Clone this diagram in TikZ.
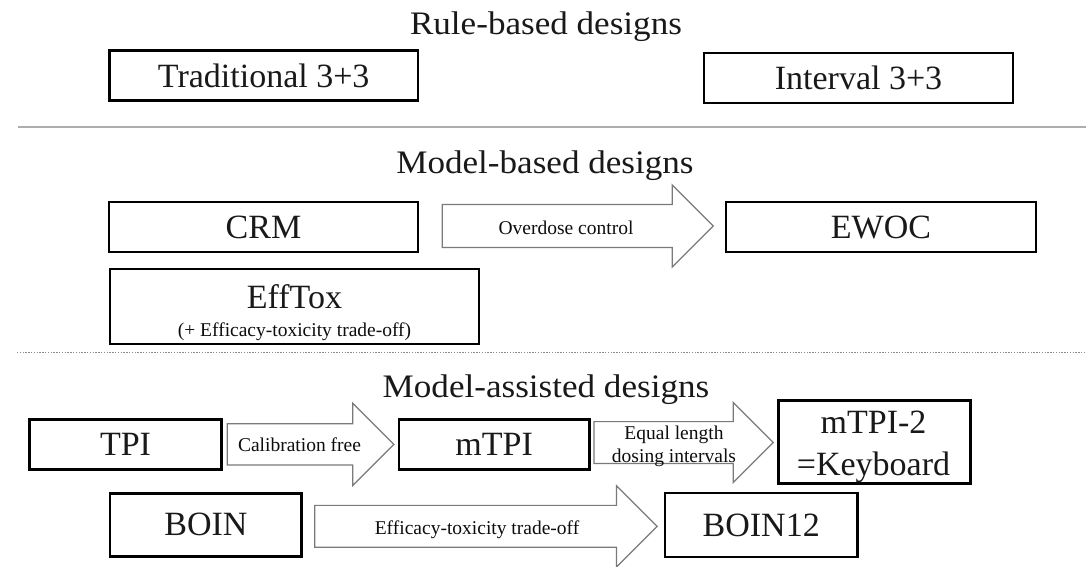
\documentclass[tikz,border=0pt]{standalone}
\usepackage{fontspec}
\setmainfont{Liberation Serif}
\newfontfamily\headingfont{Liberation Serif}[FakeStretch=1.07]
\usetikzlibrary{shapes.arrows,calc}

\tikzset{
  design/.style={draw=black, line width=2.6pt, fill=white, inner sep=0pt,
    text=black!90, font=\fontsize{34}{40}\selectfont},
  blockarrow/.style={single arrow, draw=black!52, line width=1.2pt, fill=white,
    inner xsep=0pt, text height=0pt, text depth=0pt, anchor=tail},
  heading/.style={font=\headingfont\fontsize{32.8}{40}\selectfont, text=black!90, anchor=base, inner sep=0pt},
  boxline/.style={font=\fontsize{34}{40}\selectfont, text=black!90, anchor=base, inner sep=0pt},
  note/.style={font=\fontsize{19.5}{23.5}\selectfont, text=black!95, anchor=base, inner sep=0pt},
  solidrule/.style={draw=black!32, line width=2pt},
  dottedrule/.style={draw=black!45, line width=1.4pt, dash pattern=on 1.4pt off 1.4pt},
}

\begin{document}
\begin{tikzpicture}[x=1pt, y=-1pt]
\fill[white] (0,0) rectangle (1086,566);
\useasboundingbox (0,0) rectangle (1086,566);

% ---- Rule-based designs ----
\node[heading] (rulehead) at (546,34.5) {Rule-based designs};
\node[design, minimum width=308.7pt, minimum height=50pt] (trad) at (263.7,75.7) {Traditional 3+3};
\node[design, minimum width=309pt, minimum height=50pt] (interval) at (858.5,77.8) {Interval 3+3};

\coordinate (ruleA) at (18,127);
\coordinate (ruleB) at (1086,127);
\draw[solidrule] (ruleA) -- (ruleB);

% ---- Model-based designs ----
\node[heading] (modelhead) at (545,173.5) {Model-based designs};
\node[design, minimum width=309pt, minimum height=50pt] (crm) at (263.5,227) {CRM};
\node[design, minimum width=310pt, minimum height=50pt] (ewoc) at (881,227) {EWOC};
\node[design, minimum width=369pt, minimum height=75pt] (efftox) at (294.5,306.5) {};
\node[boxline] (efftoxname) at ($(efftox.center)+(0,1.5)$) {EffTox};
\node[note] (efftoxnote) at ($(efftox.center)+(0,29.5)$) {(+ Efficacy-toxicity trade-off)};

\node[blockarrow, minimum height=271pt, inner ysep=20.85pt,
  single arrow head extend=19.65pt] (overdose) at ($(crm.east)+(22.4,-1)$) {};
\node[note] (overdoselabel) at ($(overdose.tail)+(124.3,8)$) {Overdose control};

\coordinate (dotA) at (17,352.7);
\coordinate (dotB) at (1086,352.7);
\draw[dottedrule] (dotA) -- (dotB);

% ---- Model-assisted designs ----
\node[heading] (assisthead) at (546,397) {Model-assisted designs};
\node[design, minimum width=192.4pt, minimum height=50pt] (tpi) at (125.5,444.3) {TPI};
\node[design, minimum width=190.3pt, minimum height=50pt] (mtpi) at (494.2,444.3) {mTPI};
\node[design, minimum width=192.4pt, minimum height=82.6pt] (mtpitwo) at (874.5,442) {};
\node[boxline] (mtpitwoname) at ($(mtpitwo.center)+(-1,-9)$) {mTPI-2};
\node[boxline] (mtpitwoalias) at ($(mtpitwo.center)+(-1,33)$) {=Keyboard};
\node[design, minimum width=191.7pt, minimum height=63pt] (boin) at (205.9,524.8) {BOIN};
\node[design, minimum width=192.3pt, minimum height=64pt] (bointwelve) at (761.2,525) {BOIN12};

\node[blockarrow, minimum height=166.6pt, inner ysep=20pt,
  single arrow head extend=20.5pt] (calib) at ($(tpi.east)+(3.7,0)$) {};
\node[note] (caliblabel) at ($(calib.tail)+(72.8,7.5)$) {Calibration free};

\node[blockarrow, minimum height=179.4pt, inner ysep=20.3pt,
  single arrow head extend=19.2pt] (equal) at ($(mtpi.east)+(2.65,-1.8)$) {};
\node[note] (equallabelA) at ($(equal.tail)+(80.7,-3.5)$) {Equal length};
\node[note] (equallabelB) at ($(equal.tail)+(80.7,19.5)$) {dosing intervals};

\node[blockarrow, minimum height=342.5pt, inner ysep=20.35pt,
  single arrow head extend=19.65pt] (efficacy) at ($(boin.east)+(11,1.5)$) {};
\node[note] (efficacylabel) at ($(efficacy.tail)+(163,7.7)$) {Efficacy-toxicity trade-off};
\end{tikzpicture}
\end{document}
